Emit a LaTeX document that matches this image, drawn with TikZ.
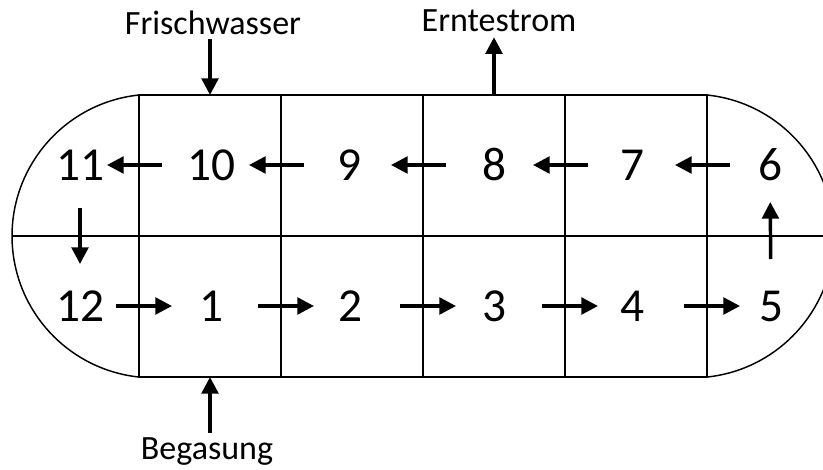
\documentclass[tikz,border=0pt]{standalone}
\usepackage{fontspec}
\setmainfont{Carlito}
\usetikzlibrary{arrows.meta}
\begin{document}
% one unit = one pixel (0.75pt), y running downwards
\begin{tikzpicture}[x=0.75pt,y=-0.75pt]
\tikzset{
  frame/.style={line width=1.1pt},
  flow/.style={line width=2.6pt,-{Triangle[length=12.5pt,width=12.5pt]}},
  num/.style={font=\fontsize{35.5}{40}\selectfont,inner sep=0pt},
  lbl/.style={font=\fontsize{25.5}{30}\selectfont,inner sep=0pt},
}
\clip (0,0) rectangle (823,470);
\useasboundingbox (0,0) rectangle (823,470);

% reactor outline: rectangle with circular end caps
\draw[frame] (139,95) rectangle (707,377);
\draw[frame] (139,95) arc[start angle=96,end angle=264,radius=106.35pt];
\draw[frame] (707,95) arc[start angle=84,end angle=-84,radius=106.35pt];
\draw[frame] (12,236) -- (834,236);
\foreach \x in {281,423,565} \draw[frame] (\x,95) -- (\x,377);

% compartment numbers
\node[num] (n11) at (80,165) {11};
\node[num] (n10) at (211,165) {10};
\node[num] (n9)  at (349,165) {9};
\node[num] (n8)  at (494,165) {8};
\node[num] (n7)  at (632,165) {7};
\node[num] (n6)  at (770,165) {6};
\node[num] (n12) at (80,306) {12};
\node[num] (n1)  at (211,306) {1};
\node[num] (n2)  at (350,306) {2};
\node[num] (n3)  at (494,306) {3};
\node[num] (n4)  at (632,306) {4};
\node[num] (n5)  at (771,306) {5};

% circulation through the compartments (shortened from centre to centre)
\draw[flow,shorten <=36*0.75pt,shorten >=39*0.75pt] (n12.center) -- (n1.center);
\draw[flow,shorten <=47*0.75pt,shorten >=36*0.75pt] (n1.center) -- (n2.center);
\draw[flow,shorten <=50*0.75pt,shorten >=38*0.75pt] (n2.center) -- (n3.center);
\draw[flow,shorten <=48*0.75pt,shorten >=34*0.75pt] (n3.center) -- (n4.center);
\draw[flow,shorten <=52*0.75pt,shorten >=31*0.75pt] (n4.center) -- (n5.center);
\draw[flow,shorten <=47*0.75pt,shorten >=37*0.75pt] (n5.center) -- (n6.center);
\draw[flow,shorten <=40*0.75pt,shorten >=43*0.75pt] (n6.center) -- (n7.center);
\draw[flow,shorten <=44*0.75pt,shorten >=39*0.75pt] (n7.center) -- (n8.center);
\draw[flow,shorten <=48*0.75pt,shorten >=42*0.75pt] (n8.center) -- (n9.center);
\draw[flow,shorten <=45*0.75pt,shorten >=38*0.75pt] (n9.center) -- (n10.center);
\draw[flow,shorten <=49*0.75pt,shorten >=27*0.75pt] (n10.center) -- (n11.center);
\draw[flow,shorten <=43*0.75pt,shorten >=42*0.75pt] (n11.center) -- (n12.center);

% inlets and outlet
\node[lbl,anchor=base] (fw) at (213,35) {Frischwasser};
\node[lbl,anchor=base] (er) at (499,31.7) {Erntestrom};
\node[lbl,anchor=base] (bg) at (207,459) {Begasung};
\coordinate (fwin) at (210,95);
\coordinate (harv) at (494,95);
\coordinate (gasin) at (210,377);
\draw[flow,shorten <=3*0.75pt] (fw.south -| fwin) -- (fwin);
\draw[flow,shorten >=5*0.75pt] (harv) -- (harv |- er.south);
\draw[flow,shorten <=4*0.75pt] (bg.north -| gasin) -- (gasin);
\end{tikzpicture}
\end{document}
